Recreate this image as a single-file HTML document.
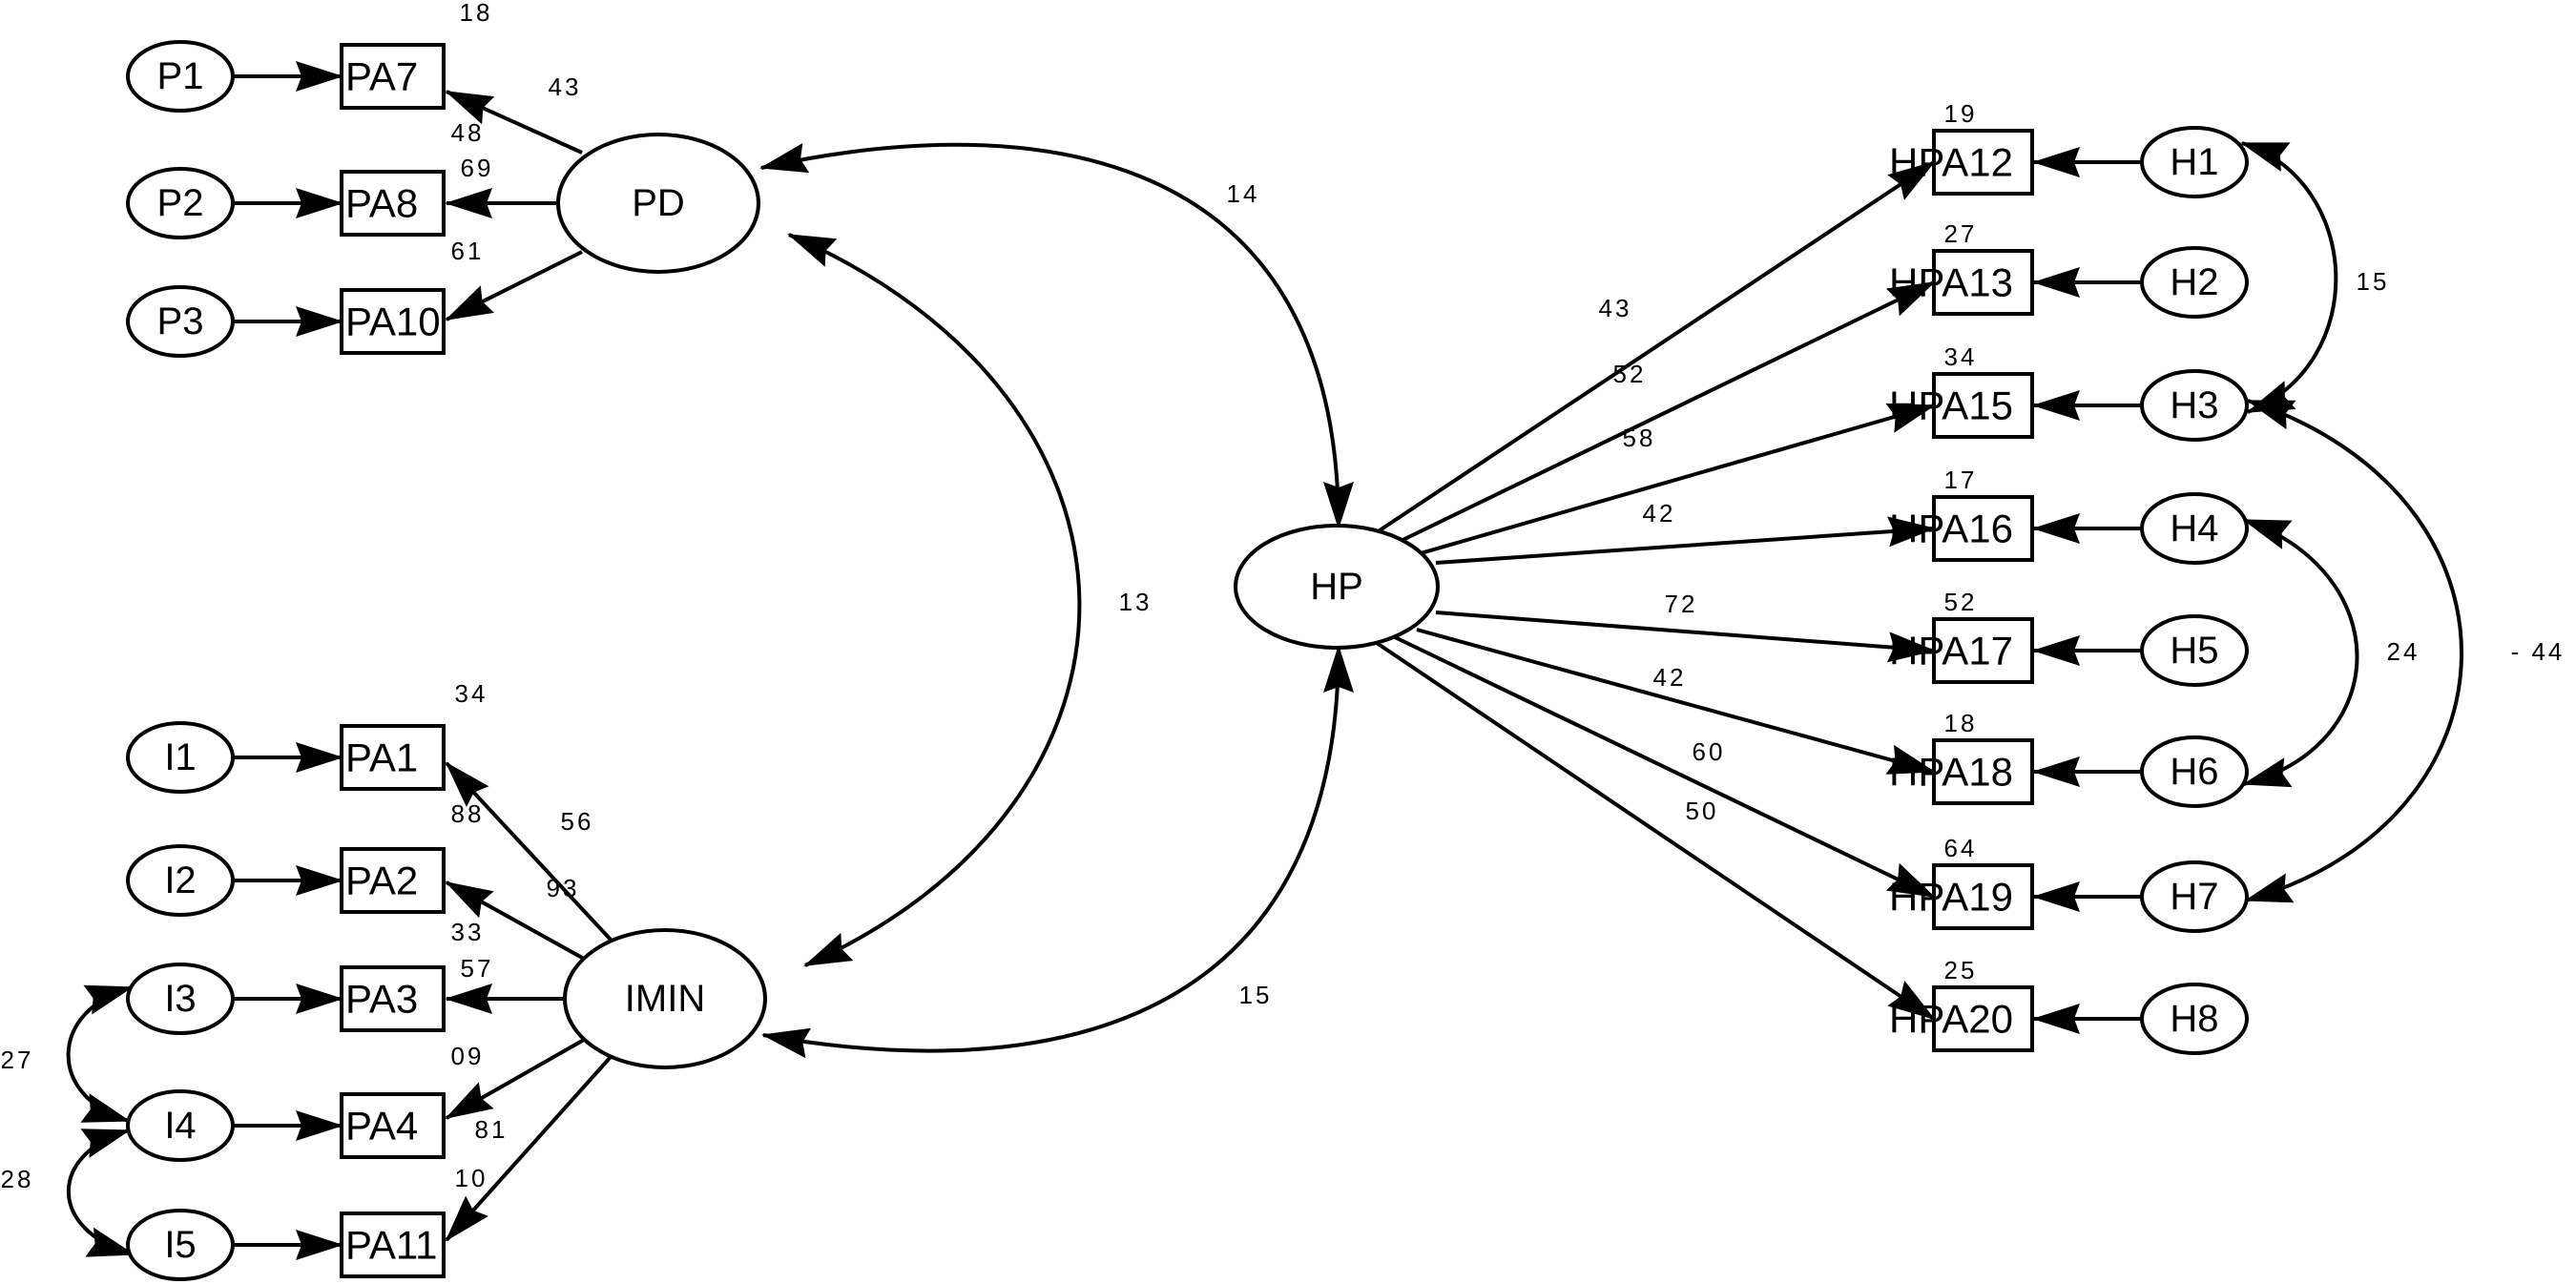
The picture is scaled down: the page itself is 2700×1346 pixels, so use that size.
<!DOCTYPE html>
<html><head><meta charset="utf-8"><style>
html,body{margin:0;padding:0;background:#fff;}
svg{display:block;}
text{font-family:"Liberation Sans",sans-serif;fill:#000;}
.n{font-size:40px;text-anchor:middle;dominant-baseline:central;}
.b{font-size:42px;dominant-baseline:central;}
.s{font-size:26px;text-anchor:middle;letter-spacing:3px;}
</style></head><body>
<svg width="2700" height="1346" viewBox="0 0 2700 1346" xmlns="http://www.w3.org/2000/svg">
<defs>
<marker id="a" markerUnits="userSpaceOnUse" markerWidth="50" markerHeight="32" refX="48" refY="16" orient="auto-start-reverse">
<path d="M0,0 L50,16 L0,32 L6,16 z" fill="#000"/></marker>
</defs>
<g stroke="#000" stroke-width="4" fill="none">
<line x1="244" y1="80" x2="358" y2="80" marker-end="url(#a)"/>
<line x1="244" y1="213" x2="358" y2="213" marker-end="url(#a)"/>
<line x1="244" y1="337" x2="358" y2="337" marker-end="url(#a)"/>
<line x1="244" y1="794" x2="358" y2="794" marker-end="url(#a)"/>
<line x1="244" y1="923" x2="358" y2="923" marker-end="url(#a)"/>
<line x1="244" y1="1047" x2="358" y2="1047" marker-end="url(#a)"/>
<line x1="244" y1="1180" x2="358" y2="1180" marker-end="url(#a)"/>
<line x1="244" y1="1305" x2="358" y2="1305" marker-end="url(#a)"/>
<line x1="610" y1="160" x2="468" y2="96" marker-end="url(#a)"/>
<line x1="585" y1="213" x2="468" y2="213" marker-end="url(#a)"/>
<line x1="610" y1="264" x2="468" y2="335" marker-end="url(#a)"/>
<line x1="640" y1="985" x2="468" y2="800" marker-end="url(#a)"/>
<line x1="612" y1="1005" x2="468" y2="925" marker-end="url(#a)"/>
<line x1="592" y1="1047" x2="468" y2="1047" marker-end="url(#a)"/>
<line x1="612" y1="1090" x2="468" y2="1172" marker-end="url(#a)"/>
<line x1="640" y1="1108" x2="468" y2="1300" marker-end="url(#a)"/>
<line x1="1440" y1="560" x2="2027" y2="170" marker-end="url(#a)"/>
<line x1="1462" y1="570" x2="2027" y2="296" marker-end="url(#a)"/>
<line x1="1482" y1="582" x2="2027" y2="425" marker-end="url(#a)"/>
<line x1="1505" y1="590" x2="2027" y2="554" marker-end="url(#a)"/>
<line x1="1505" y1="642" x2="2027" y2="682" marker-end="url(#a)"/>
<line x1="1485" y1="660" x2="2027" y2="809" marker-end="url(#a)"/>
<line x1="1462" y1="668" x2="2027" y2="940" marker-end="url(#a)"/>
<line x1="1440" y1="672" x2="2027" y2="1068" marker-end="url(#a)"/>
<line x1="2245" y1="170" x2="2132" y2="170" marker-end="url(#a)"/>
<line x1="2245" y1="296" x2="2132" y2="296" marker-end="url(#a)"/>
<line x1="2245" y1="425" x2="2132" y2="425" marker-end="url(#a)"/>
<line x1="2245" y1="554" x2="2132" y2="554" marker-end="url(#a)"/>
<line x1="2245" y1="682" x2="2132" y2="682" marker-end="url(#a)"/>
<line x1="2245" y1="809" x2="2132" y2="809" marker-end="url(#a)"/>
<line x1="2245" y1="940" x2="2132" y2="940" marker-end="url(#a)"/>
<line x1="2245" y1="1068" x2="2132" y2="1068" marker-end="url(#a)"/>
<path d="M798,176 C1050,120 1403,130 1403,553" marker-start="url(#a)" marker-end="url(#a)"/>
<path d="M827,246 C1230,420 1230,840 844,1012" marker-start="url(#a)" marker-end="url(#a)"/>
<path d="M800,1085 C1050,1130 1403,1110 1403,678" marker-start="url(#a)" marker-end="url(#a)"/>
<path d="M2350,150 C2475,190 2485,380 2356,432" marker-start="url(#a)" marker-end="url(#a)"/>
<path d="M2352,545 C2510,600 2510,780 2352,822" marker-start="url(#a)" marker-end="url(#a)"/>
<path d="M2356,420 C2660,520 2650,860 2354,944" marker-start="url(#a)" marker-end="url(#a)"/>
<path d="M138,1035 C50,1060 50,1150 135,1175" marker-start="url(#a)" marker-end="url(#a)"/>
<path d="M135,1185 C50,1210 50,1290 140,1315" marker-start="url(#a)" marker-end="url(#a)"/>
</g>
<g stroke="#000" stroke-width="4" fill="#fff">
<ellipse cx="189" cy="80" rx="55" ry="36"/>
<ellipse cx="189" cy="213" rx="55" ry="36"/>
<ellipse cx="189" cy="337" rx="55" ry="36"/>
<ellipse cx="189" cy="794" rx="55" ry="36"/>
<ellipse cx="189" cy="923" rx="55" ry="36"/>
<ellipse cx="189" cy="1047" rx="55" ry="36"/>
<ellipse cx="189" cy="1180" rx="55" ry="36"/>
<ellipse cx="189" cy="1305" rx="55" ry="36"/>
<ellipse cx="690" cy="213" rx="105" ry="72"/>
<ellipse cx="697" cy="1047" rx="105" ry="72"/>
<ellipse cx="1401" cy="615" rx="106" ry="64"/>
<rect x="358" y="47" width="107" height="66"/>
<rect x="358" y="180" width="107" height="66"/>
<rect x="358" y="304" width="107" height="66"/>
<rect x="358" y="761" width="107" height="66"/>
<rect x="358" y="890" width="107" height="66"/>
<rect x="358" y="1014" width="107" height="66"/>
<rect x="358" y="1147" width="107" height="66"/>
<rect x="358" y="1272" width="107" height="66"/>
<rect x="2027" y="137" width="103" height="66"/>
<rect x="2027" y="263" width="103" height="66"/>
<rect x="2027" y="392" width="103" height="66"/>
<rect x="2027" y="521" width="103" height="66"/>
<rect x="2027" y="649" width="103" height="66"/>
<rect x="2027" y="776" width="103" height="66"/>
<rect x="2027" y="907" width="103" height="66"/>
<rect x="2027" y="1035" width="103" height="66"/>
<ellipse cx="2300" cy="170" rx="55" ry="36"/>
<ellipse cx="2300" cy="296" rx="55" ry="36"/>
<ellipse cx="2300" cy="425" rx="55" ry="36"/>
<ellipse cx="2300" cy="554" rx="55" ry="36"/>
<ellipse cx="2300" cy="682" rx="55" ry="36"/>
<ellipse cx="2300" cy="809" rx="55" ry="36"/>
<ellipse cx="2300" cy="940" rx="55" ry="36"/>
<ellipse cx="2300" cy="1068" rx="55" ry="36"/>
</g>
<g class="n">
<text x="189" y="80">P1</text><text x="189" y="213">P2</text><text x="189" y="337">P3</text>
<text x="189" y="794">I1</text><text x="189" y="923">I2</text><text x="189" y="1047">I3</text>
<text x="189" y="1180">I4</text><text x="189" y="1305">I5</text>
<text x="690" y="213">PD</text><text x="697" y="1047">IMIN</text><text x="1401" y="615">HP</text>
<text x="2300" y="170">H1</text><text x="2300" y="296">H2</text><text x="2300" y="425">H3</text>
<text x="2300" y="554">H4</text><text x="2300" y="682">H5</text><text x="2300" y="809">H6</text>
<text x="2300" y="940">H7</text><text x="2300" y="1068">H8</text>
</g>
<g class="b">
<text x="362" y="80">PA7</text><text x="362" y="213">PA8</text><text x="362" y="337">PA10</text>
<text x="362" y="794">PA1</text><text x="362" y="923">PA2</text><text x="362" y="1047">PA3</text>
<text x="362" y="1180">PA4</text><text x="362" y="1305">PA11</text>
<text x="1980" y="170">HPA12</text><text x="1980" y="296">HPA13</text><text x="1980" y="425">HPA15</text>
<text x="1980" y="554">HPA16</text><text x="1980" y="682">HPA17</text><text x="1980" y="809">HPA18</text>
<text x="1980" y="940">HPA19</text><text x="1980" y="1068">HPA20</text>
</g>
<g class="s">
<text x="499" y="22">18</text><text x="592" y="100">43</text><text x="490" y="148">48</text>
<text x="500" y="185">69</text><text x="490" y="272">61</text>
<text x="1303" y="212">14</text><text x="1190" y="640">13</text><text x="1316" y="1052">15</text>
<text x="494" y="736">34</text><text x="490" y="862">88</text><text x="605" y="870">56</text>
<text x="590" y="940">93</text><text x="490" y="986">33</text><text x="500" y="1024">57</text>
<text x="490" y="1116">09</text><text x="515" y="1193">81</text><text x="494" y="1244">10</text>
<text x="18" y="1120">27</text><text x="18" y="1245">28</text>
<text x="2055" y="128">19</text><text x="2055" y="254">27</text><text x="2055" y="383">34</text>
<text x="2055" y="512">17</text><text x="2055" y="640">52</text><text x="2055" y="767">18</text>
<text x="2055" y="898">64</text><text x="2055" y="1026">25</text>
<text x="1693" y="332">43</text><text x="1708" y="401">52</text><text x="1718" y="468">58</text>
<text x="1739" y="547">42</text><text x="1762" y="642">72</text><text x="1750" y="719">42</text>
<text x="1791" y="797">60</text><text x="1784" y="859">50</text>
<text x="2487" y="304">15</text><text x="2519" y="692">24</text><text x="2660" y="692">- 44</text>
</g>
</svg>
</body></html>
